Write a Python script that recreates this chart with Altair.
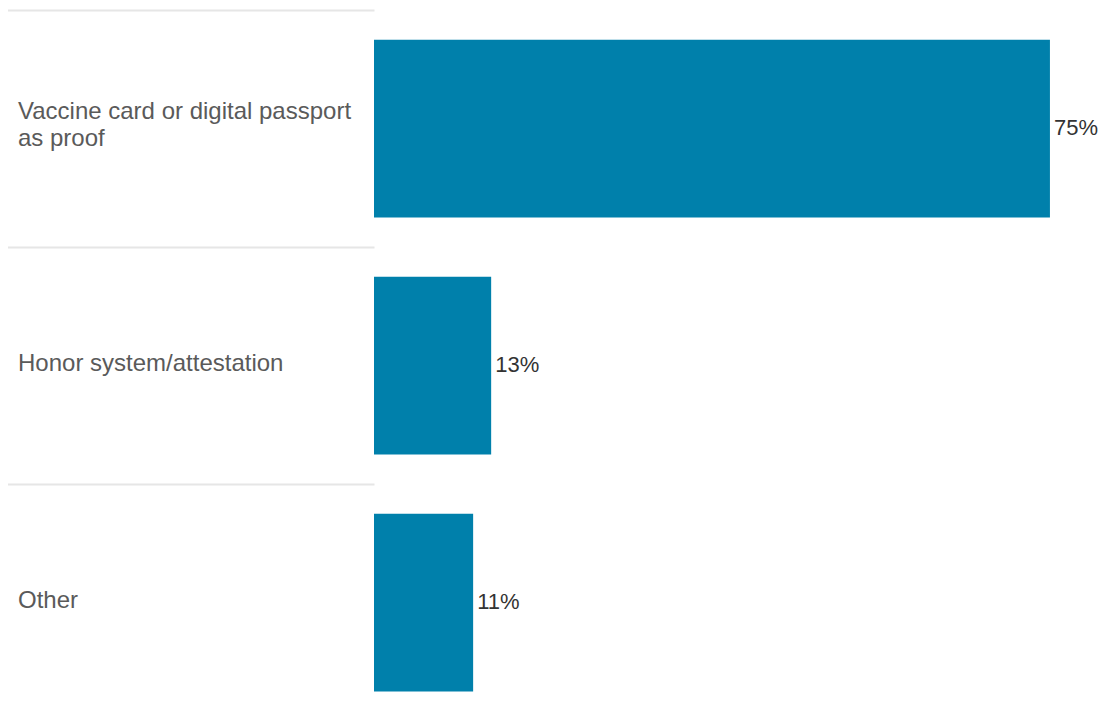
import altair as alt
import pandas as pd

categories = ["Vaccine card or digital passport\nas proof", "Honor system/attestation", "Other"]
values = [75, 13, 11]
value_labels = ["75%", "13%", "11%"]

df = pd.DataFrame({"category": categories, "value": values, "label": value_labels})

FONT = "Liberation Sans, Arial, sans-serif"
LINE_H = 27

y_enc = alt.Y(
    "category:N",
    sort=categories,
    scale=alt.Scale(paddingInner=0.25, paddingOuter=0.125, range=[0, 711]),
    axis=alt.Axis(
        labels=False,
        domain=False,
        ticks=True,
        bandPosition=0,
        tickOffset=-29.6,
        tickSize=368,
        tickColor="#e6e6e6",
        tickWidth=2,
        grid=False,
        title=None,
    ),
)

xscale = alt.Scale(domain=[0, 80])

base = alt.Chart(df).encode(y=y_enc)

bars = base.mark_bar(color="#0080ab").encode(
    x=alt.X("value:Q", scale=xscale, axis=None)
)

vals = base.mark_text(
    align="left", baseline="middle", dx=4, dy=-1, fontSize=22, font=FONT, color="#333333"
).encode(x=alt.X("value:Q", scale=xscale, axis=None), text="label:N")

label_style = dict(
    align="left", baseline="middle", lineBreak="\n", lineHeight=LINE_H,
    fontSize=24, font=FONT, color="#5a5a5a"
)

labels_single = (
    base.transform_filter("indexof(datum.category, '\\n') < 0")
    .mark_text(dy=-2, **label_style)
    .encode(x=alt.value(-356), text="category:N")
)

labels_multi = (
    base.transform_filter("indexof(datum.category, '\\n') >= 0")
    .mark_text(dy=-(LINE_H / 2) - 3, **label_style)
    .encode(x=alt.value(-356), text="category:N")
)

chart = (
    alt.layer(bars, vals, labels_single, labels_multi)
    .properties(
        width=721,
        height=688,
        autosize=alt.AutoSizeParams(type="none"),
        padding={"left": 366, "top": 2, "right": 5, "bottom": 0},
    )
    .configure_view(stroke=None)
)

chart.save("out.html", embed_options={"renderer": "svg", "actions": False})
